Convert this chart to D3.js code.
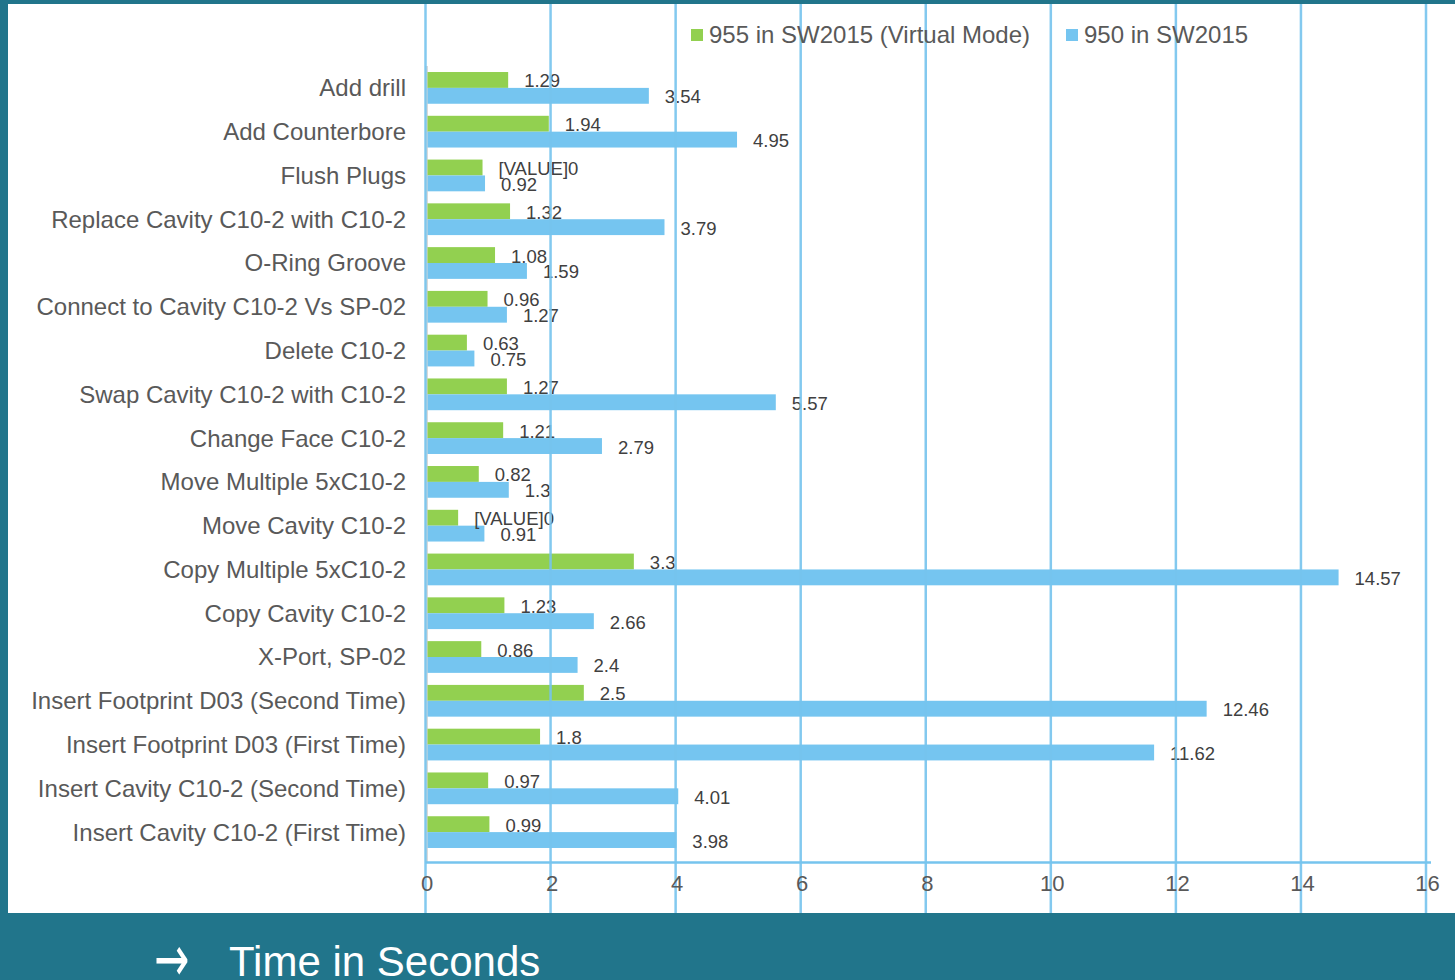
<!DOCTYPE html>
<html>
<head>
<meta charset="utf-8">
<script src="https://cdn.jsdelivr.net/npm/d3@7"></script>
<style>
  body { margin: 0; background: #21758b; }
  svg { display: block; font-family: "Liberation Sans", Arial, sans-serif; }
</style>
</head>
<body>
<svg width="1455" height="980"></svg>
<script>
// chart data, top to bottom
var categories = ['Add drill', 'Add Counterbore', 'Flush Plugs', 'Replace Cavity C10-2 with C10-2',
    'O-Ring Groove', 'Connect to Cavity C10-2 Vs SP-02', 'Delete C10-2', 'Swap Cavity C10-2 with C10-2',
    'Change Face C10-2', 'Move Multiple 5xC10-2', 'Move Cavity C10-2', 'Copy Multiple 5xC10-2',
    'Copy Cavity C10-2', 'X-Port, SP-02', 'Insert Footprint D03 (Second Time)',
    'Insert Footprint D03 (First Time)', 'Insert Cavity C10-2 (Second Time)', 'Insert Cavity C10-2 (First Time)'];
var virtualMode = [1.29, 1.94, 0.88, 1.32, 1.08, 0.96, 0.63, 1.27, 1.21, 0.82, 0.49, 3.3, 1.23, 0.86, 2.5, 1.8, 0.97, 0.99];
var virtualLabels = ['1.29', '1.94', '[VALUE]0', '1.32', '1.08', '0.96', '0.63', '1.27', '1.21', '0.82',
    '[VALUE]0', '3.3', '1.23', '0.86', '2.5', '1.8', '0.97', '0.99'];
var sw950 = [3.54, 4.95, 0.92, 3.79, 1.59, 1.27, 0.75, 5.57, 2.79, 1.3, 0.91, 14.57, 2.66, 2.4, 12.46, 11.62, 4.01, 3.98];
var seriesNames = ['955 in SW2015 (Virtual Mode)', '950 in SW2015'];
var xTicks = [0, 2, 4, 6, 8, 10, 12, 14, 16];

var svg = d3.select('svg');
var svgWidth = +svg.attr('width');
var svgHeight = +svg.attr('height');

var green = '#92d050', blue = '#75c5f0', grid = '#76c4ee', textGray = '#595959', teal = '#21758b';

// frame
svg.append('rect').attr('width', svgWidth).attr('height', svgHeight).attr('fill', teal);
svg.append('rect').attr('x', 8).attr('y', 4).attr('width', svgWidth - 8).attr('height', 909).attr('fill', '#fff');

var xScale = d3.scaleLinear().domain([0, 16]).range([427.5, 1428]);
var yScale = d3.scaleBand().domain(categories).range([66, 854]).paddingInner(0.275).paddingOuter(0.1375);
var ySub = d3.scaleBand().domain([0, 1]).range([0, yScale.bandwidth()]);

var rows = categories.map(function(c, i) {
    return {name: c, values: [
        {s: 0, v: virtualMode[i], label: virtualLabels[i]},
        {s: 1, v: sw950[i], label: String(sw950[i])}
    ]};
});

// grey axis line at zero
svg.append('line')
    .attr('x1', xScale(0) - 1).attr('x2', xScale(0) - 1)
    .attr('y1', 66).attr('y2', 862)
    .attr('stroke', '#d9d9d9').attr('stroke-width', 3);

var rowG = svg.selectAll('.row')
    .data(rows)
    .enter().append('g')
    .attr('class', 'row')
    .attr('transform', function(d) { return 'translate(0,' + yScale(d.name) + ')'; });

rowG.selectAll('rect')
    .data(function(d) { return d.values; })
    .enter().append('rect')
    .attr('x', xScale(0))
    .attr('y', function(d) { return ySub(d.s); })
    .attr('width', function(d) { return xScale(d.v) - xScale(0); })
    .attr('height', ySub.bandwidth())
    .attr('fill', function(d) { return d.s === 0 ? green : blue; });

rowG.selectAll('.val')
    .data(function(d) { return d.values; })
    .enter().append('text')
    .attr('class', 'val')
    .attr('x', function(d) { return xScale(d.v) + 16; })
    .attr('y', function(d) { return ySub(d.s) + ySub.bandwidth() / 2 + 1; })
    .attr('dy', '0.35em')
    .attr('font-size', 18.5)
    .attr('fill', '#404040')
    .text(function(d) { return d.label; });

// category labels
svg.selectAll('.cat')
    .data(categories)
    .enter().append('text')
    .attr('class', 'cat')
    .attr('x', 406)
    .attr('y', function(d) { return yScale(d) + yScale.bandwidth() / 2; })
    .attr('dy', '0.35em')
    .attr('text-anchor', 'end')
    .attr('font-size', 24)
    .attr('fill', textGray)
    .text(function(d) { return d; });

// vertical gridlines drawn over the bars
svg.selectAll('.grid')
    .data(xTicks)
    .enter().append('line')
    .attr('class', 'grid')
    .attr('x1', function(d) { return xScale(d) - 2; })
    .attr('x2', function(d) { return xScale(d) - 2; })
    .attr('y1', 4).attr('y2', 913)
    .attr('stroke', grid).attr('stroke-width', 2.5).attr('opacity', 0.9);

// horizontal axis line
svg.append('line')
    .attr('x1', xScale(0) - 2).attr('x2', xScale(16) + 3)
    .attr('y1', 862.5).attr('y2', 862.5)
    .attr('stroke', grid).attr('stroke-width', 2.5);

var xAxis = svg.append('g')
    .attr('transform', 'translate(-1,875)')
    .call(d3.axisBottom(xScale).tickValues(xTicks).tickSize(0).tickPadding(0).tickFormat(d3.format('d')));
xAxis.select('.domain').remove();
xAxis.selectAll('text')
    .attr('font-size', 22)
    .attr('font-family', '"Liberation Sans", Arial, sans-serif')
    .attr('fill', textGray);

// legend
var legend = svg.selectAll('.legend')
    .data(seriesNames)
    .enter().append('g')
    .attr('class', 'legend')
    .attr('transform', function(d, i) { return 'translate(' + [i === 0 ? 691 : 1066, 29] + ')'; });
legend.append('rect')
    .attr('width', 12).attr('height', 12)
    .attr('fill', function(d, i) { return i === 0 ? green : blue; });
legend.append('text')
    .attr('x', 18).attr('y', 6).attr('dy', '0.35em')
    .attr('font-size', 24)
    .attr('fill', textGray)
    .text(function(d) { return d; });

// footer caption
svg.append('text')
    .attr('transform', 'translate(154,981) scale(1.05,1.6)')
    .attr('font-family', '"DejaVu Sans", sans-serif')
    .attr('font-size', 40)
    .attr('fill', '#fff')
    .text('\u2192');
svg.append('text')
    .attr('x', 229).attr('y', 976)
    .attr('font-size', 42)
    .attr('fill', '#fff')
    .text('Time in Seconds');
</script>
</body>
</html>
